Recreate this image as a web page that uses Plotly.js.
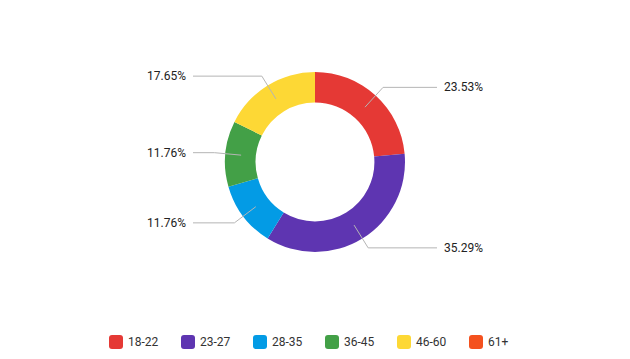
<!DOCTYPE html>
<html><head><meta charset="utf-8">
<script src="https://cdn.plot.ly/plotly-3.0.1.min.js"></script>
<style>html,body{margin:0;padding:0;background:#fff}#chart{width:630px;height:359px}</style>
</head><body><div id="chart"></div>
<script>
const categories = ["18-22", "23-27", "28-35", "36-45", "46-60", "61+"];
const counts = [4, 6, 2, 2, 3, 0];
const colors = ["#e53935", "#5e35b1", "#039be5", "#43a047", "#fdd835", "#f4511e"];

const W = 630, H = 359;
const cx = 315, cy = 162, R = 90;
const holeFrac = 0.66;
const px = x => x / W, py = y => 1 - y / H;

const total = counts.reduce((a, b) => a + b, 0);
const shapes = [], annotations = [];
let cum = 0;
counts.forEach((v, i) => {
  if (v <= 0) { return; }
  const mid = (cum + v / 2) / total * 2 * Math.PI;
  cum += v;
  const s = Math.sin(mid), c = Math.cos(mid);
  const r1 = R * (1 + holeFrac) / 2 - 0.5, r2 = R + 11;
  const x1 = cx + r1 * s, y1 = cy - r1 * c;
  const x2 = cx + r2 * s, y2 = cy - r2 * c;
  const right = s >= 0;
  const x3 = right ? cx + 122 : cx - 122;
  shapes.push({type: 'path', xref: 'paper', yref: 'paper',
    path: `M${px(x1)},${py(y1)} L${px(x2)},${py(y2)} L${px(x3)},${py(y2)}`,
    line: {color: '#b5b5b5', width: 1}});
  annotations.push({xref: 'paper', yref: 'paper', x: px(right ? x3 + 5 : x3 - 5), y: py(y2),
    xanchor: right ? 'left' : 'right', yanchor: 'middle', showarrow: false,
    text: (v / total * 100).toFixed(2) + '%', font: {family: 'Roboto', size: 12, color: '#222'}});
});

// custom legend
const lgX0 = 109, lgStep = 72, lgY = 342, sw = 14, rr = 3;
categories.forEach((cat, i) => {
  const x0 = lgX0 + i * lgStep, y0 = lgY - sw / 2, x1 = x0 + sw, y1 = y0 + sw;
  const P = (x, y) => `${px(x)},${py(y)}`;
  const path = `M${P(x0 + rr, y0)} L${P(x1 - rr, y0)} Q${P(x1, y0)} ${P(x1, y0 + rr)} L${P(x1, y1 - rr)} Q${P(x1, y1)} ${P(x1 - rr, y1)} L${P(x0 + rr, y1)} Q${P(x0, y1)} ${P(x0, y1 - rr)} L${P(x0, y0 + rr)} Q${P(x0, y0)} ${P(x0 + rr, y0)} Z`;
  shapes.push({type: 'path', xref: 'paper', yref: 'paper', path: path,
    fillcolor: colors[i], line: {width: 0}});
  annotations.push({xref: 'paper', yref: 'paper', x: px(x1 + 3), y: py(lgY),
    xanchor: 'left', yanchor: 'middle', showarrow: false, text: cat,
    font: {family: 'Roboto', size: 12, color: '#333'}});
});

const trace = {
  type: 'pie', labels: categories, values: counts, hole: holeFrac,
  sort: false, direction: 'clockwise', rotation: 0,
  marker: {colors: colors, line: {width: 0}},
  textinfo: 'none', hoverinfo: 'label+percent', showlegend: false,
  domain: {x: [px(cx - R), px(cx + R)], y: [py(cy + R), py(cy - R)]}
};

Plotly.newPlot('chart', [trace], {
  width: W, height: H, margin: {l: 0, r: 0, t: 0, b: 0},
  paper_bgcolor: '#fff', showlegend: false,
  shapes: shapes, annotations: annotations
}, {displayModeBar: false, staticPlot: true});
</script></body></html>
